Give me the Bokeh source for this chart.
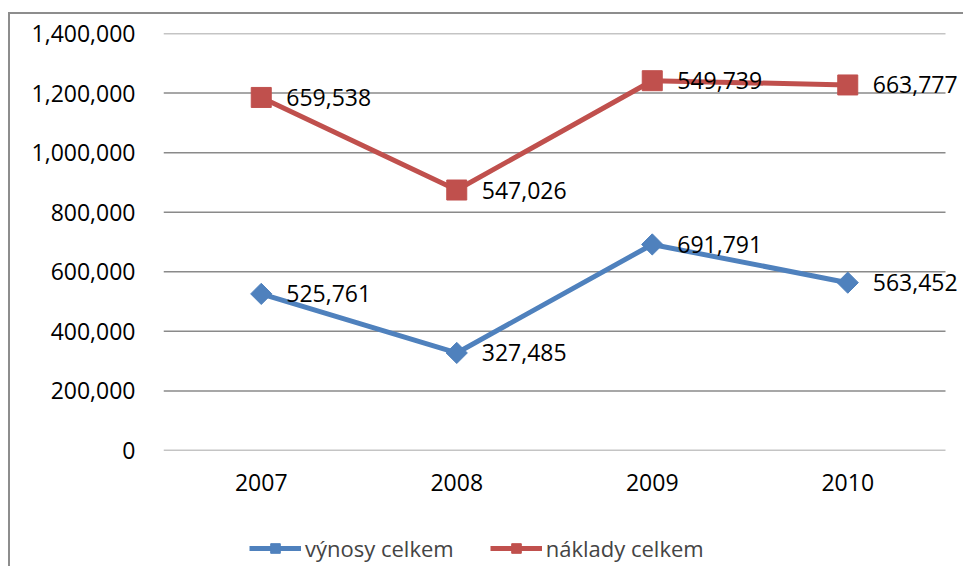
from bokeh.plotting import figure
from bokeh.layouts import column
from bokeh.models import (ColumnDataSource, Range1d, FixedTicker,
                          NumeralTickFormatter, Legend, LegendItem, LabelSet)
from bokeh.core.properties import value
from bokeh.embed import file_html
from bokeh.resources import INLINE

years = ["2007", "2008", "2009", "2010"]
vynosy = [525761, 327485, 691791, 563452]
naklady = [659538, 547026, 549739, 663777]
y_ticks = [0, 200000, 400000, 600000, 800000, 1000000, 1200000, 1400000]
series_names = ["výnosy celkem", "náklady celkem"]

BLUE = "#4F81BD"
RED = "#C0504D"
GRID = "#8a8a8a"
FONT = "Open Sans"
FS = "23px"

x_idx = list(range(len(years)))
stacked = [a + b for a, b in zip(vynosy, naklady)]

src_v = ColumnDataSource(dict(x=x_idx, y=vynosy, lab=[f"{v:,}" for v in vynosy]))
src_n = ColumnDataSource(dict(x=x_idx, y=stacked, lab=[f"{v:,}" for v in naklady]))
src_g = ColumnDataSource(dict(y=y_ticks, x0=[x_idx[0] - 0.5] * len(y_ticks),
                              x1=[x_idx[-1] + 0.5] * len(y_ticks)))

# extra room on the right so the last data labels are not clipped
x_end = x_idx[-1] + 0.5 + 17 / 195.5

p = figure(x_range=Range1d(x_idx[0] - 0.5, x_end), y_range=Range1d(0, 1400000),
           frame_width=799, frame_height=417,
           min_border_left=153, min_border_top=19, min_border_right=1, min_border_bottom=60,
           output_backend="svg", toolbar_location=None)
p.outline_line_color = None
p.background_fill_color = "white"
p.border_fill_color = "white"
p.xgrid.grid_line_color = None
p.ygrid.grid_line_color = None

p.segment(x0="x0", y0="y", x1="x1", y1="y", source=src_g,
          line_color=GRID, line_width=1.5)

p.yaxis.ticker = FixedTicker(ticks=y_ticks)
p.yaxis.formatter = NumeralTickFormatter(format="0,0")
p.xaxis.ticker = FixedTicker(ticks=x_idx)
p.xaxis.major_label_overrides = {i: y for i, y in zip(x_idx, years)}

for ax in (p.xaxis, p.yaxis):
    ax.axis_line_color = None
    ax.major_tick_line_color = None
    ax.minor_tick_line_color = None
    ax.major_label_text_font = FONT
    ax.major_label_text_font_size = FS
    ax.major_label_text_color = "black"
p.yaxis.major_label_standoff = 22
p.xaxis.major_label_standoff = 17

p.line("x", "y", source=src_v, line_color=BLUE, line_width=5)
p.scatter("x", "y", source=src_v, marker="square", angle=0.785398, size=15,
          fill_color=BLUE, line_color=BLUE)
p.line("x", "y", source=src_n, line_color=RED, line_width=5)
p.scatter("x", "y", source=src_n, marker="square", size=20,
          fill_color=RED, line_color=RED)

for s in (src_v, src_n):
    p.add_layout(LabelSet(x="x", y="y", text="lab", source=s, x_offset=25,
                          text_baseline="middle", text_align="left",
                          text_font=value(FONT), text_font_size=value(FS),
                          text_color="black"))

# legend strip below the chart (same series, out of this strip's view)
p2 = figure(width=953, height=56, x_range=Range1d(0, 1), y_range=Range1d(0, 1),
            x_axis_type=None, y_axis_type=None,
            min_border_left=0, min_border_right=0, min_border_top=0, min_border_bottom=0,
            output_backend="svg", toolbar_location=None)
p2.outline_line_color = None
p2.xgrid.grid_line_color = None
p2.ygrid.grid_line_color = None
l1 = p2.line("x", "y", source=src_v, line_color=BLUE, line_width=5)
m1 = p2.scatter("x", "y", source=src_v, marker="square", angle=0.785398, size=15,
                fill_color=BLUE, line_color=BLUE)
l2 = p2.line("x", "y", source=src_n, line_color=RED, line_width=5)
m2 = p2.scatter("x", "y", source=src_n, marker="square", size=20,
                fill_color=RED, line_color=RED)

legend = Legend(items=[LegendItem(label=series_names[0], renderers=[l1, m1]),
                       LegendItem(label=series_names[1], renderers=[l2, m2])],
                location=(86, 3), orientation="horizontal",
                glyph_width=52, glyph_height=24, label_height=24, label_standoff=4,
                spacing=36, padding=0, margin=0,
                label_text_font=FONT, label_text_font_size="22px",
                border_line_color=None, background_fill_alpha=0)
p2.add_layout(legend, "center")

layout = column(p, p2, spacing=0,
                styles={"border-left": "2px solid #8d8d8d", "border-top": "2px solid #8d8d8d",
                        "margin-top": "12px", "margin-left": "8px"})

open("out.html", "w").write(file_html(layout, INLINE))
